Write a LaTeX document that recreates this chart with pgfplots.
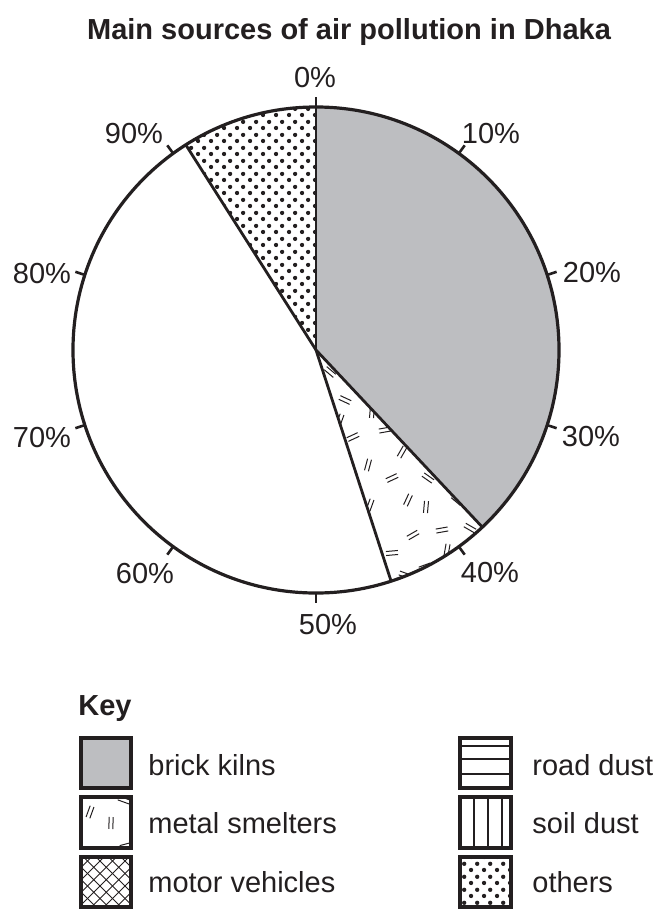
\documentclass[border=0pt]{standalone}
\usepackage{pgfplots}
\pgfplotsset{compat=1.18}
\usepackage{pgfplotstable}
\usepackage{fontspec}
\setmainfont{Liberation Sans}
\usetikzlibrary{patterns}

\definecolor{kiln}{RGB}{189,190,193}
\definecolor{ink}{RGB}{35,31,32}

\pgfdeclarepatternformonly{bigdots}{\pgfpoint{0bp}{0bp}}{\pgfpoint{6.5bp}{6.5bp}}{\pgfpoint{6.5bp}{6.5bp}}{%
  \pgfpathcircle{\pgfpoint{1.625bp}{1.625bp}}{1.15bp}%
  \pgfpathcircle{\pgfpoint{4.875bp}{4.875bp}}{1.15bp}%
  \pgfusepath{fill}}
\pgfdeclarepatternformonly{xhatch}{\pgfpoint{-1bp}{-1bp}}{\pgfpoint{7bp}{7bp}}{\pgfpoint{6.25bp}{6.25bp}}{%
  \pgfsetlinewidth{0.5bp}%
  \pgfpathmoveto{\pgfpoint{0bp}{0bp}}\pgfpathlineto{\pgfpoint{6.25bp}{6.25bp}}%
  \pgfpathmoveto{\pgfpoint{0bp}{6.25bp}}\pgfpathlineto{\pgfpoint{6.25bp}{0bp}}%
  \pgfusepath{stroke}}

% pie data: share of each source in percent, clockwise from 0%
\pgfplotstableread{
source value
brickkilns 38
metalsmelters 7
unlabelled 46
others 9
}\piedata

% point on circle at percent #1, radius #2 (pixels)
\newcommand\pp[2]{(axis cs:{316+(#2)*cos(90-3.6*(#1))},{350-(#2)*sin(90-3.6*(#1))})}
\newcommand\sectorpath[2]{(axis cs:316,350) -- \pp{#1}{243} arc[start angle={90-3.6*(#1)}, end angle={90-3.6*(#2)}, radius=121.5bp] -- cycle}
\newcommand\sm[3]{\draw[line width=0.5bp, ink, shift={(axis cs:#1,#2)}, rotate=#3] (-3bp,-1bp) -- (3bp,-1bp) (-3bp,1bp) -- (3bp,1bp);}

\newcommand\txt{\fontsize{14.5bp}{17bp}\selectfont}

\begin{document}
\begin{tikzpicture}
\pgfplotstablegetelem{0}{value}\of\piedata \edef\vA{\pgfplotsretval}
\pgfplotstablegetelem{1}{value}\of\piedata \edef\vB{\pgfplotsretval}
\pgfplotstablegetelem{2}{value}\of\piedata \edef\vC{\pgfplotsretval}
\pgfplotstablegetelem{3}{value}\of\piedata \edef\vD{\pgfplotsretval}
\pgfmathsetmacro\cA{\vA}
\pgfmathsetmacro\cB{\vA+\vB}
\pgfmathsetmacro\cC{\vA+\vB+\vC}
\pgfmathsetmacro\cD{\vA+\vB+\vC+\vD}
\begin{axis}[
  x=0.5bp, y=0.5bp,
  xmin=0, xmax=656, ymin=0, ymax=911,
  y dir=reverse,
  hide axis, clip=false,
  scale only axis,
]
\path (axis cs:0,0) (axis cs:656,911);
% title
\node[anchor=base, font=\txt\bfseries, text=ink] at (axis cs:349,39) {Main sources of air pollution in Dhaka};

% sectors
\fill[kiln] \sectorpath{0}{\cA};
\fill[pattern=bigdots, pattern color=ink] \sectorpath{\cC}{\cD};
\begin{scope}
\clip \sectorpath{\cA}{\cB};
\sm{330}{372}{-40}
\sm{345}{400}{-25}
\sm{340}{420}{70}
\sm{372}{412}{85}
\sm{385}{430}{10}
\sm{353}{437}{25}
\sm{402}{452}{60}
\sm{368}{465}{75}
\sm{392}{478}{25}
\sm{428}{478}{-35}
\sm{408}{500}{65}
\sm{426}{507}{85}
\sm{370}{505}{70}
\sm{413}{535}{30}
\sm{442}{530}{10}
\sm{470}{528}{-30}
\sm{392}{553}{5}
\sm{447}{550}{80}
\sm{425}{567}{20}
\sm{457}{500}{-40}
\sm{405}{575}{-20}
\end{scope}
% boundaries
\draw[ink, line width=1.4bp] (axis cs:316,350) -- \pp{0}{243};
\draw[ink, line width=1.4bp] (axis cs:316,350) -- \pp{\cA}{243};
\draw[ink, line width=1.4bp] (axis cs:316,350) -- \pp{\cB}{243};
\draw[ink, line width=1.4bp] (axis cs:316,350) -- \pp{\cC}{243};
\draw[ink, line width=1.6bp] (axis cs:316,350) circle[radius=121.5bp];
% ticks
\pgfplotsinvokeforeach{0,10,...,90}{
  \draw[ink, line width=1.3bp] \pp{#1}{243} -- \pp{#1}{253};
}
% tick labels
\begin{scope}[every node/.style={anchor=base, font=\txt, text=ink, inner sep=0pt}]
\node at (axis cs:315,87) {0\%};
\node at (axis cs:491,143) {10\%};
\node at (axis cs:592,282) {20\%};
\node at (axis cs:591,446) {30\%};
\node at (axis cs:490,582) {40\%};
\node at (axis cs:328,634) {50\%};
\node at (axis cs:145,583) {60\%};
\node at (axis cs:42,447) {70\%};
\node at (axis cs:42,283) {80\%};
\node at (axis cs:134,143) {90\%};
\end{scope}

% key
\node[anchor=base west, font=\txt\bfseries, text=ink, inner sep=0pt] at (axis cs:78,715) {Key};
% brick kilns
\fill[kiln] (axis cs:81,738) rectangle (axis cs:131,788);
\draw[ink, line width=1.8bp] (axis cs:81,738) rectangle (axis cs:131,788);
% metal smelters
\begin{scope}
\clip (axis cs:81,797) rectangle (axis cs:131,848);
\sm{90}{812}{70}
\sm{111}{823}{88}
\sm{124}{800}{-20}
\sm{126}{846}{15}
\end{scope}
\draw[ink, line width=1.8bp] (axis cs:81,797) rectangle (axis cs:131,848);
% motor vehicles
\fill[pattern=xhatch, pattern color=ink] (axis cs:81,857) rectangle (axis cs:131,907);
\draw[ink, line width=1.8bp] (axis cs:81,857) rectangle (axis cs:131,907);
% road dust
\draw[ink, line width=0.6bp] (axis cs:460,746) -- (axis cs:511,746) (axis cs:460,759) -- (axis cs:511,759) (axis cs:460,774) -- (axis cs:511,774);
\draw[ink, line width=1.8bp] (axis cs:460,738) rectangle (axis cs:511,788);
% soil dust
\draw[ink, line width=0.6bp] (axis cs:474,797) -- (axis cs:474,848) (axis cs:488,797) -- (axis cs:488,848) (axis cs:502,797) -- (axis cs:502,848);
\draw[ink, line width=1.8bp] (axis cs:460,797) rectangle (axis cs:511,848);
% others
\fill[pattern=bigdots, pattern color=ink] (axis cs:460,857) rectangle (axis cs:511,907);
\draw[ink, line width=1.8bp] (axis cs:460,857) rectangle (axis cs:511,907);

\begin{scope}[every node/.style={anchor=base west, font=\txt, text=ink, inner sep=0pt}]
\node at (axis cs:148,775) {brick kilns};
\node at (axis cs:148,833) {metal smelters};
\node at (axis cs:148,892) {motor vehicles};
\node at (axis cs:532,775) {road dust};
\node at (axis cs:532,833) {soil dust};
\node at (axis cs:532,892) {others};
\end{scope}
\end{axis}
\end{tikzpicture}
\end{document}
